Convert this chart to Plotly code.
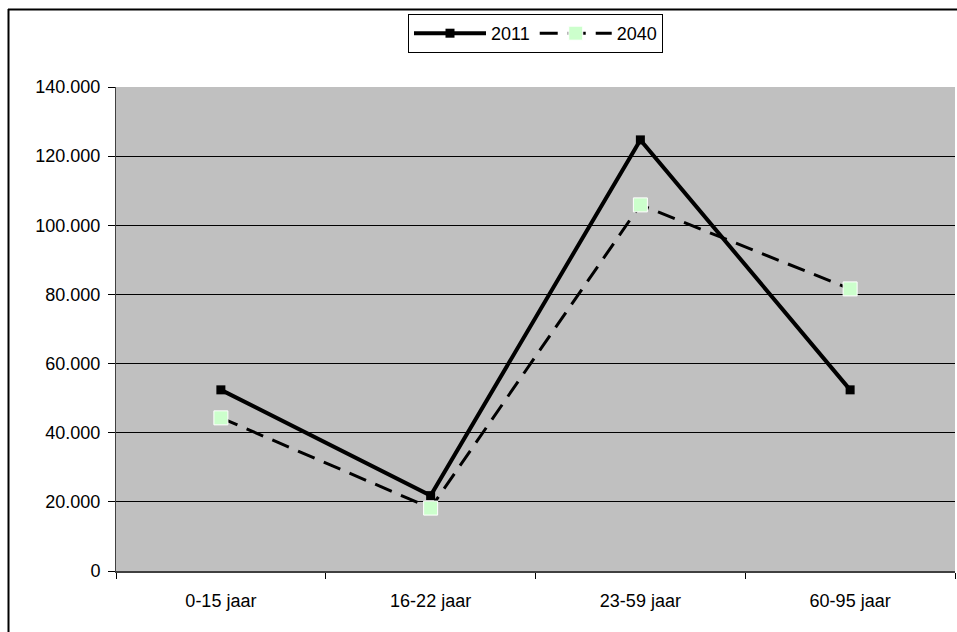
import plotly.graph_objects as go

categories = ["0-15 jaar", "16-22 jaar", "23-59 jaar", "60-95 jaar"]
values_2011 = [52400, 21800, 124700, 52400]
values_2040 = [44300, 18200, 105900, 81600]
y_ticks = [0, 20000, 40000, 60000, 80000, 100000, 120000, 140000]

W, H = 957, 632
L, R, T, B = 116, 2, 87, 61
pw, ph = W - L - R, H - T - B

def px_x(x):
    return (x - L) / pw

def px_y(y):
    return (H - B - y) / ph

fig = go.Figure()
fig.add_trace(go.Scatter(
    x=categories, y=values_2011, name="2011", mode="lines+markers",
    line=dict(color="black", width=4),
    marker=dict(symbol="square", size=9, color="black"),
))
fig.add_trace(go.Scatter(
    x=categories, y=values_2040, name="2040", mode="lines+markers",
    line=dict(color="black", width=3, dash="18px,10px"),
    marker=dict(symbol="square", size=14, color="#CCFFCC", line=dict(color="white", width=1)),
))

# outer frame (top and left edges)
fig.add_shape(type="line", xref="paper", yref="paper",
              x0=px_x(8), x1=px_x(957), y0=px_y(9.5), y1=px_y(9.5),
              line=dict(color="black", width=2))
fig.add_shape(type="line", xref="paper", yref="paper",
              x0=px_x(8.5), x1=px_x(8.5), y0=px_y(9), y1=px_y(632),
              line=dict(color="black", width=2))

fig.update_layout(
    width=W, height=H,
    margin=dict(l=L, r=R, t=T, b=B),
    paper_bgcolor="white",
    plot_bgcolor="#C0C0C0",
    separators=",.",
    font=dict(family="Liberation Sans, Arial, sans-serif", size=18, color="black"),
    showlegend=True,
    legend=dict(
        orientation="h", x=px_x(408), y=px_y(14), xanchor="left", yanchor="top",
        bordercolor="black", borderwidth=1, bgcolor="white",
        font=dict(size=18), itemwidth=72, tracegroupgap=0,
    ),
    xaxis=dict(
        type="category", tickson="boundaries", ticks="outside", ticklen=6,
        tickcolor="black", showgrid=False, showline=True, linecolor="#404040",
        linewidth=2, range=[-0.5, 3.5], ticklabelstandoff=12,
        tickfont=dict(size=18),
    ),
    yaxis=dict(
        range=[0, 140000], tickvals=y_ticks, tickformat=",.0f",
        ticks="outside", ticklen=7, tickcolor="black",
        showgrid=True, gridcolor="black", gridwidth=1,
        showline=True, linecolor="#404040", linewidth=1,
        zeroline=False, tickfont=dict(size=18), ticklabelstandoff=4,
    ),
)

fig.write_html(
    "out.html",
    config={"displayModeBar": False},
    post_script="document.body.style.margin='0';document.body.style.overflow='hidden';",
)
